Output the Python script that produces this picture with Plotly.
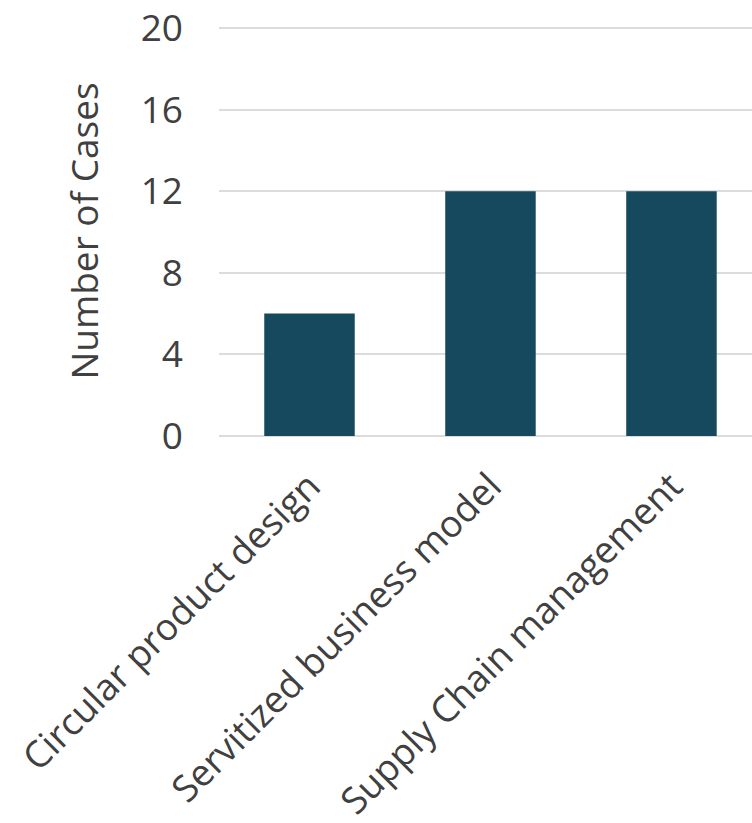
import plotly.graph_objects as go

# Case counts per circular-economy strategy
categories = ["Circular product design", "Servitized business model", "Supply Chain management"]
cases = [6, 12, 12]
y_ticks = [0, 4, 8, 12, 16, 20]

BAR_COLOR = "#17495E"
TEXT_COLOR = "#404040"
GRID_COLOR = "#dcdcdc"
FONT = "'Open Sans', Lato, sans-serif"
FONT_SIZE = 37

fig = go.Figure(
    go.Bar(
        x=categories,
        y=cases,
        marker=dict(color=BAR_COLOR, line=dict(width=0)),
        width=0.5,
    )
)

fig.update_layout(
    width=752,
    height=823,
    margin=dict(l=219, r=0, t=26, b=387),
    paper_bgcolor="white",
    plot_bgcolor="white",
    showlegend=False,
    font=dict(family=FONT, size=FONT_SIZE, color=TEXT_COLOR),
)

fig.update_xaxes(
    range=[-0.5, 2.445],
    tickangle=-45,
    tickfont=dict(size=FONT_SIZE, color=TEXT_COLOR),
    showgrid=False,
    showline=False,
    ticks="",
    ticklabelstandoff=20,
)

fig.update_yaxes(
    range=[0, 20.1],
    tickvals=y_ticks,
    tickfont=dict(size=FONT_SIZE, color=TEXT_COLOR),
    showgrid=True,
    gridcolor=GRID_COLOR,
    gridwidth=2,
    zeroline=True,
    zerolinecolor=GRID_COLOR,
    zerolinewidth=2,
    showline=False,
    ticks="",
    ticklabelstandoff=35,
    title=dict(text="Number of Cases", font=dict(size=FONT_SIZE, color=TEXT_COLOR), standoff=30),
)

fig.write_html("out.html")
